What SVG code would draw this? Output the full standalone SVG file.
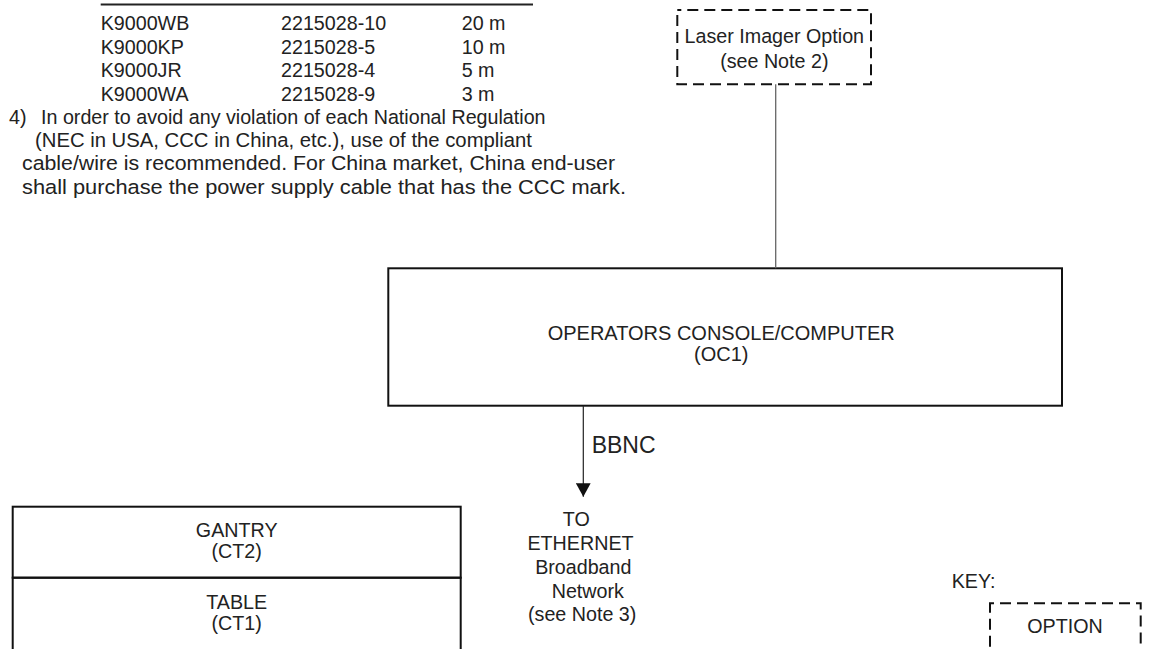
<svg xmlns="http://www.w3.org/2000/svg" width="1152" height="649" viewBox="0 0 1152 649">
<style>
  .t{font-family:"Liberation Sans",Arial,Helvetica,sans-serif;font-size:19.7px;fill:#222}
  .c{text-anchor:middle}
  .box{fill:none;stroke:#111;stroke-width:2}
  .dash{fill:none;stroke:#111;stroke-width:2;stroke-dasharray:11 6;stroke-dashoffset:7}
  .conn{fill:none;stroke:#222;stroke-width:1.2}
  .conn-grey{fill:none;stroke:#666;stroke-width:1.3}
  .rule{stroke:#222;stroke-width:2}
</style>
<defs>
  <marker id="arrow" viewBox="0 0 13.4 14.7" refX="13.4" refY="7.35" markerWidth="13.4" markerHeight="14.7" markerUnits="userSpaceOnUse" orient="auto">
    <path d="M0,0 L13.4,7.35 L0,14.7 Z" fill="#111"/>
  </marker>
</defs>
<rect width="1152" height="649" fill="#fff"/>

<g id="notes">
  <line class="rule" x1="100.7" y1="4.5" x2="533" y2="4.5"/>
  <text class="t" x="100.7" y="30">K9000WB</text>
  <text class="t" x="281" y="30">2215028-10</text>
  <text class="t" x="461.7" y="30">20 m</text>
  <text class="t" x="100.7" y="53.5">K9000KP</text>
  <text class="t" x="281" y="53.5">2215028-5</text>
  <text class="t" x="461.7" y="53.5">10 m</text>
  <text class="t" x="100.7" y="77">K9000JR</text>
  <text class="t" x="281" y="77">2215028-4</text>
  <text class="t" x="461.7" y="77">5 m</text>
  <text class="t" x="100.7" y="100.5">K9000WA</text>
  <text class="t" x="281" y="100.5">2215028-9</text>
  <text class="t" x="461.7" y="100.5">3 m</text>
  <text class="t" x="9" y="123.5">4)</text>
  <text class="t" x="41" y="123.5">In order to avoid any violation of each National Regulation</text>
  <text class="t" x="35" y="147" textLength="497" lengthAdjust="spacingAndGlyphs">(NEC in USA, CCC in China, etc.), use of the compliant</text>
  <text class="t" x="22" y="170" textLength="593" lengthAdjust="spacingAndGlyphs">cable/wire is recommended. For China market, China end-user</text>
  <text class="t" x="22" y="193.5" textLength="604" lengthAdjust="spacingAndGlyphs">shall purchase the power supply cable that has the CCC mark.</text>
</g>

<g id="laser-imager">
  <rect class="dash" x="677.3" y="10" width="193.7" height="74.3"/>
  <text class="t c" x="774.3" y="43.3">Laser Imager Option</text>
  <text class="t c" x="774.3" y="68">(see Note 2)</text>
</g>

<g id="oc1">
  <rect class="box" x="388.3" y="268.3" width="673.7" height="137.4"/>
  <text class="t c" x="721.2" y="340" style="font-size:20px">OPERATORS CONSOLE/COMPUTER</text>
  <text class="t c" x="721.2" y="361" style="font-size:20px">(OC1)</text>
</g>

<g id="ethernet">
  <text class="t c" x="576.3" y="526">TO</text>
  <text class="t c" x="580.5" y="550">ETHERNET</text>
  <text class="t c" x="583.3" y="574">Broadband</text>
  <text class="t c" x="587.8" y="597.5">Network</text>
  <text class="t c" x="582.2" y="621">(see Note 3)</text>
</g>

<g id="gantry">
  <rect class="box" x="12.7" y="506.7" width="448" height="71"/>
  <text class="t c" x="236.7" y="537">GANTRY</text>
  <text class="t c" x="236.7" y="558">(CT2)</text>
</g>

<g id="table">
  <rect class="box" x="12.7" y="577.7" width="448" height="90"/>
  <text class="t c" x="236.7" y="609">TABLE</text>
  <text class="t c" x="236.7" y="630">(CT1)</text>
</g>

<g id="key">
  <text class="t" x="951.7" y="588">KEY:</text>
  <rect class="dash" x="990" y="603.3" width="150.7" height="80"/>
  <text class="t c" x="1065" y="632.7">OPTION</text>
</g>

<g id="connectors">
  <line class="conn-grey" x1="775.7" y1="84.3" x2="775.7" y2="268.3"/>
  <line class="conn" x1="583.3" y1="405.7" x2="583.3" y2="496.7" marker-end="url(#arrow)"/>
  <text class="t" x="591.7" y="453.3" style="font-size:23px">BBNC</text>
</g>
</svg>
